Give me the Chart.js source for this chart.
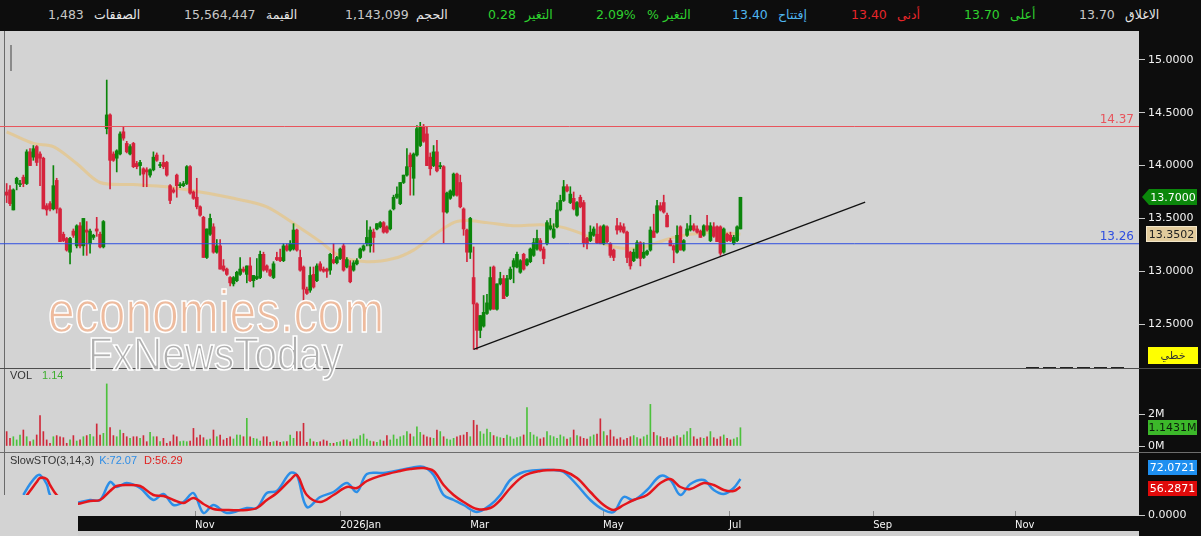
<!DOCTYPE html>
<html lang="en">
<head>
<meta charset="utf-8">
<script src="https://cdn.jsdelivr.net/npm/chart.js@4.4.1/dist/chart.umd.min.js"></script>
<style>
html,body{margin:0;padding:0;}
body{width:1201px;height:536px;background:#0d0d0d;position:relative;overflow:hidden;font-family:'DejaVu Sans',sans-serif;}
#topBar{position:absolute;left:0;top:0;width:1201px;height:31px;background:#0d0d0d;}
#topBar span{position:absolute;top:7px;font-size:12.5px;line-height:16px;white-space:nowrap;}
canvas{position:absolute;left:0;}
.lg{position:absolute;font-family:'Liberation Sans',sans-serif;font-size:11px;line-height:13px;white-space:nowrap;z-index:3;}
.wm{position:absolute;font-family:'Liberation Sans',sans-serif;white-space:nowrap;-webkit-text-stroke:1.6px #ffffff;transform-origin:0 0;z-index:5;}
</style>
</head>
<body>
<div id="topBar"></div>
<canvas id="cPrice" width="1201" height="338" style="top:31px"></canvas>
<canvas id="cVol" width="1201" height="84" style="top:369px"></canvas>
<canvas id="cSto" width="1201" height="83" style="top:453px"></canvas>
<div class="lg" id="lgVol" style="left:10px;top:369px"></div>
<div class="lg" id="lgSto" style="left:10px;top:454px"></div>
<div class="wm" style="left:48px;top:282px;font-size:60px;line-height:60px;color:#eebb9e;transform:scaleX(0.8);">economies.com</div>
<div class="wm" style="left:88px;top:331px;font-size:46px;line-height:46px;color:#b0b0b0;transform:scaleX(0.88);">FxNewsToday</div>
<script>
// ---------------- DATA ----------------
const topBarItems = [
  [48,'#c8c8c8','1,483'],[94,'#e6e6e6','الصفقات'],[184,'#c8c8c8','15,564,447'],[266,'#e6e6e6','القيمة'],
  [345,'#c8c8c8','1,143,099'],[416,'#e6e6e6','الحجم'],[488,'#2fd12f','0.28'],[525,'#2fd12f','التغير'],
  [596,'#2fd12f','2.09%'],[647,'#2fd12f','%'],[663,'#2fd12f','التغير'],[732,'#4fb6f0','13.40'],[778,'#4fb6f0','إفتتاح'],
  [851,'#e8262a','13.40'],[897,'#e8262a','أدنى'],[964,'#2fd12f','13.70'],[1010,'#2fd12f','أعلى'],
  [1079,'#c8c8c8','13.70'],[1125,'#e6e6e6','الاغلاق']
];

const candleOpen = [
13.75,13.77,13.58,13.83,13.82,13.89,13.83,14.13,14.08,14.18,14.11,14.07,13.62,13.64,13.59,13.86,13.59,13.35,13.31,13.18,
13.38,13.24,13.43,13.24,13.39,13.26,13.32,13.40,13.35,13.23,14.35,14.48,14.11,14.07,14.11,14.32,14.21,14.11,14.21,14.02,
14.00,13.97,13.96,13.91,13.96,14.10,14.00,14.03,14.03,13.81,13.77,13.91,13.81,13.81,13.83,13.99,13.75,
13.70,13.61,13.51,13.13,13.35,13.42,13.18,13.24,13.05,13.02,12.94,12.88,12.91,12.97,13.02,12.97,13.05,12.91,12.93,12.94,
13.16,13.05,13.01,12.94,13.13,13.13,13.10,13.24,13.20,13.21,13.39,13.13,13.04,12.83,12.82,12.97,12.91,13.07,13.02,13.02,
13.01,13.11,13.08,13.12,13.24,13.04,13.05,13.01,13.07,13.13,13.20,13.26,13.24,13.37,
13.40,13.42,13.46,13.42,13.40,13.59,13.70,13.64,13.84,13.91,14.10,13.88,14.10,14.19,14.37,14.30,14.08,14.00,14.13,13.99,
13.99,13.56,13.69,13.72,13.92,13.84,13.59,13.39,13.18,12.94,12.69,12.44,12.48,12.60,12.64,13.04,12.64,12.88,12.93,12.77,
12.93,13.04,13.04,12.99,13.16,13.06,13.09,13.15,13.21,13.29,13.21,13.26,13.40,13.32,13.42,
13.58,13.67,13.80,13.65,13.69,13.53,13.70,13.65,13.31,13.29,13.34,13.35,13.42,13.26,13.42,13.26,13.20,13.43,13.43,13.42,
13.37,13.18,13.10,13.13,13.27,13.13,13.16,13.20,13.38,13.37,13.62,13.65,13.53,13.29,13.24,13.18,13.42,13.20,13.34,13.39,
13.43,13.40,13.38,13.34,13.43,13.29,13.42,13.42,13.42,13.18,13.35,13.34,13.26,13.29,13.40];

const candleHigh = [
13.83,13.81,13.78,13.89,13.86,13.91,14.15,14.16,14.19,14.19,14.13,14.08,13.64,13.66,14.00,13.88,13.60,13.37,13.32,13.32,
13.40,13.44,13.46,13.50,13.47,13.40,13.35,13.51,13.37,13.48,14.81,14.49,14.13,14.15,14.32,14.37,14.23,14.20,14.22,14.04,
14.05,13.98,13.98,13.97,14.13,14.12,14.03,14.10,14.04,13.82,13.79,13.92,13.84,13.85,14.00,14.00,13.76,
13.88,13.62,13.52,13.40,13.54,13.45,13.30,13.30,13.11,13.03,12.95,12.95,13.00,13.13,13.04,13.05,13.13,12.96,13.12,13.19,
13.18,13.06,13.02,13.09,13.18,13.21,13.26,13.26,13.29,13.45,13.40,13.20,13.05,12.85,13.04,13.04,13.07,13.09,13.04,13.03,
13.17,13.26,13.14,13.22,13.26,13.13,13.10,13.10,13.12,13.22,13.25,13.48,13.42,13.40,
13.45,13.47,13.47,13.43,13.58,13.72,13.80,13.84,13.91,14.16,14.12,14.12,14.38,14.41,14.39,14.37,14.12,14.19,14.24,14.03,
14.00,13.75,13.77,13.93,13.93,13.91,13.60,13.40,13.51,13.23,12.70,12.58,12.77,12.78,13.04,13.05,12.88,12.99,12.96,12.96,
13.04,13.12,13.18,13.11,13.17,13.12,13.22,13.31,13.39,13.31,13.23,13.48,13.50,13.45,13.65,
13.72,13.86,13.82,13.80,13.75,13.66,13.72,13.67,13.32,13.43,13.42,13.45,13.43,13.44,13.43,13.27,13.21,13.50,13.46,13.45,
13.38,13.19,13.21,13.29,13.28,13.27,13.20,13.42,13.54,13.67,13.65,13.72,13.55,13.31,13.25,13.43,13.43,13.30,13.45,13.53,
13.45,13.43,13.39,13.44,13.53,13.46,13.46,13.43,13.43,13.41,13.36,13.37,13.34,13.43,13.70];

const candleLow = [
13.65,13.62,13.58,13.77,13.80,13.80,13.82,14.00,14.05,14.00,13.81,13.59,13.53,13.57,13.58,13.55,13.28,13.28,13.19,13.07,
13.32,13.22,13.22,13.15,13.15,13.17,13.30,13.33,13.22,13.22,14.30,13.78,14.04,13.94,14.10,14.24,14.12,14.10,13.98,13.97,
13.91,13.80,13.80,13.89,13.95,14.04,13.98,13.97,13.90,13.64,13.74,13.70,13.79,13.80,13.82,13.73,13.68,
13.59,13.52,13.13,13.12,13.34,13.17,13.17,13.02,13.00,12.96,12.86,12.86,12.90,12.96,12.99,12.89,12.90,12.85,12.92,12.93,
13.00,12.99,12.95,12.93,13.10,13.09,13.09,13.19,13.19,13.20,13.19,13.00,12.72,12.78,12.80,12.84,12.90,13.00,12.99,12.94,
12.97,13.07,13.07,13.11,13.00,13.03,12.89,13.00,13.06,13.12,13.19,13.24,13.18,13.18,
13.39,13.41,13.36,13.36,13.39,13.58,13.69,13.63,13.83,13.90,13.72,13.72,14.09,14.18,14.22,14.00,13.91,13.99,13.94,13.97,
13.27,13.55,13.68,13.71,13.71,13.60,13.34,13.09,13.12,12.26,12.26,12.37,12.47,12.59,12.63,12.64,12.63,12.87,12.74,12.76,
12.92,12.89,13.03,12.98,13.01,13.05,13.08,13.14,13.20,13.19,13.07,13.25,13.39,13.31,13.41,
13.57,13.66,13.75,13.64,13.58,13.52,13.60,13.23,13.21,13.28,13.33,13.26,13.26,13.25,13.27,13.13,13.10,13.35,13.37,13.36,
13.08,13.02,13.09,13.12,13.05,13.12,13.15,13.19,13.32,13.36,13.57,13.55,13.42,13.24,13.08,13.17,13.20,13.19,13.33,13.38,
13.38,13.36,13.32,13.33,13.38,13.28,13.32,13.28,13.15,13.17,13.28,13.28,13.25,13.28,13.40];

const candleClose = [
13.72,13.64,13.77,13.88,13.83,13.83,14.13,14.00,14.16,14.03,14.07,13.59,13.58,13.59,13.81,13.59,13.28,13.29,13.20,13.31,
13.34,13.43,13.24,13.50,13.37,13.38,13.34,13.38,13.23,13.47,14.48,14.05,14.05,14.14,14.30,14.26,14.13,14.18,13.99,13.99,
14.03,13.92,13.94,13.96,14.08,14.05,14.01,13.99,13.91,13.67,13.75,13.81,13.82,13.83,13.99,13.74,13.69,
13.61,13.53,13.13,13.40,13.50,13.18,13.24,13.02,13.01,12.97,12.89,12.94,12.99,13.02,13.00,13.05,12.91,12.96,12.95,13.16,
13.01,13.01,12.96,13.07,13.11,13.10,13.24,13.20,13.26,13.39,13.20,13.01,12.83,12.79,12.96,12.85,13.05,13.01,13.00,13.00,
13.16,13.08,13.13,13.21,13.01,13.11,12.90,13.08,13.10,13.21,13.24,13.32,13.39,13.32,
13.45,13.46,13.37,13.37,13.57,13.70,13.73,13.84,13.91,13.99,13.99,14.11,14.35,14.37,14.23,14.00,13.97,14.13,13.95,14.00,
13.56,13.74,13.76,13.92,13.72,13.61,13.40,13.18,13.50,12.69,12.44,12.58,12.61,12.70,12.94,12.64,12.88,12.93,12.74,12.93,
13.02,13.10,13.16,13.10,13.02,13.11,13.21,13.27,13.31,13.20,13.12,13.46,13.43,13.40,13.58,
13.67,13.80,13.76,13.73,13.59,13.65,13.61,13.27,13.26,13.37,13.40,13.27,13.26,13.43,13.28,13.15,13.13,13.39,13.39,13.37,
13.13,13.05,13.18,13.27,13.12,13.18,13.19,13.39,13.32,13.62,13.58,13.56,13.42,13.24,13.20,13.34,13.20,13.29,13.40,13.43,
13.39,13.37,13.32,13.43,13.39,13.43,13.33,13.28,13.17,13.40,13.29,13.29,13.32,13.42,13.70];

// volume in millions
const volume = [
.90,.48,.58,.38,.69,1.00,.58,.27,.38,.69,1.90,.90,.38,.17,.58,.65,.58,.52,.17,.38,
.65,.31,.38,.58,.65,.73,.58,1.38,.69,.79,3.88,1.15,.65,.58,1.00,.79,.58,.48,.58,.58,
.48,.65,.27,.85,.58,.58,.27,.48,.17,.27,.69,.58,.27,.31,.27,.31,1.10,.52,.69,.52,
.38,.44,1.00,.58,.69,.38,.48,.58,.44,.69,.69,.58,1.73,.58,.48,.44,.31,.58,.58,.23,
.27,.31,.23,.27,.27,.69,.48,.90,.90,1.42,.23,.44,.27,.23,.27,.38,.31,.17,.17,.23,
.27,.38,.38,.27,.44,.44,.65,.75,.44,.31,.27,.23,.38,.31,.65,.38,.69,
.44,.58,.65,.90,.75,.58,1.20,.85,.69,.58,.52,.48,1.00,.90,.58,.44,.38,.48,.58,.65,
.69,.85,.58,1.60,1.30,.90,.75,1.05,.85,.65,.58,.52,.48,.69,.58,.44,.52,.58,.69,2.40,
.85,.69,.58,.44,.52,.90,.65,.58,.48,.69,.58,.44,.52,1.00,.65,.58,.48,.44,.58,.69,
.75,1.70,.90,.65,1.00,.58,.44,.52,.38,.48,.58,.65,.52,.44,.58,.69,2.60,.85,.65,.58,
.48,.52,.44,.58,.65,.52,.69,.90,1.10,.58,.44,.52,.48,.58,.90,.52,.44,.58,.69,.48,
.38,.44,.52,1.143099];

// 50-day moving average read at selected bars
const maIdx = [0,8,14,21,28,38,48,58,68,78,88,94,100,108,116,122,128,134,138,144,152,160,166,172,178,184,190,195,200,205,212,220];
const maVal = [14.32,14.21,14.18,14.02,13.84,13.82,13.80,13.75,13.69,13.61,13.41,13.28,13.14,13.09,13.12,13.20,13.34,13.46,13.48,13.46,13.43,13.44,13.42,13.36,13.27,13.22,13.22,13.27,13.32,13.35,13.37,13.35];
const maLast = 13.3502;

// horizontal levels and trend line
const hLines = [14.37, 13.26];
const hLineColors = ['#e8545c', '#2f4fe0'];
const trendX = [140, 257.4];
const trendY = [12.26, 13.655];

// Slow stochastic (3,14,3) read at selected bars
const stoIdx = [5,7,9,10,12,13,15,18,21,25,28,31,33,36,40,44,47,50,53,56,59,62,66,72,75,78,81,85,87,90,94,98,102,105,108,113,118,121,125,128,131,134,137,141,145,148,151,155,160,164,167,171,175,179,182,185,188,192,196,199,202,205,209,212,215,218,220];
const stoK = [40,62,78,80,62,40,25,20,24,30,30,66,56,64,54,30,42,20,26,44,4,20,4,14,14,44,48,84,80,16,36,46,64,46,82,84,90,94,96,80,40,30,20,6,20,40,70,86,90,90,86,60,30,10,6,36,30,50,78,70,40,62,70,50,42,54,72.0721];
const stoD = [30,48,66,74,72,60,40,25,22,28,30,48,58,60,58,40,38,30,24,34,22,12,10,10,14,30,44,70,80,40,26,40,56,54,68,80,88,92,94,88,60,40,26,12,14,30,54,78,88,90,88,74,46,20,10,20,30,40,64,72,56,52,64,60,50,48,56.2871];

// axis ticks
const priceTicks = [12.5, 13, 13.5, 14, 14.5, 15];
const volTicks = [0, 2];
const stoTicks = [0];
const monthLabels = ['Nov','2026Jan','Mar','May','Jul','Sep','Nov'];
const monthPos = [56.5, 100, 139, 178.8, 216.6, 259.8, 302.3];

// ---------------- TOP BAR / LEGENDS ----------------
const topBarEl = document.getElementById('topBar');
topBarItems.forEach(([x,c,t])=>{ const s=document.createElement('span'); s.style.left=x+'px'; s.style.color=c; s.textContent=t; topBarEl.appendChild(s); });
const volLast = volume[volume.length-1];
document.getElementById('lgVol').innerHTML = '<span style="color:#333">VOL</span><span style="color:#3fae2f;margin-left:10px">'+volLast.toFixed(2)+'</span>';
document.getElementById('lgSto').innerHTML = '<span style="color:#333">SlowSTO(3,14,3)</span><span style="color:#2e8de6;margin-left:5px">K:'+stoK[stoK.length-1].toFixed(2)+'</span><span style="color:#e0201e;margin-left:7px">D:'+stoD[stoD.length-1].toFixed(2)+'</span>';

// ---------------- CHARTS ----------------
Chart.defaults.font.family = "'DejaVu Sans', sans-serif";
const X_MIN = -2, X_MAX = 339.5;
const PANEL = '#d3d3d3', GREEN = '#0b850b', RED = '#d5233c';
const idx = candleOpen.map((_,i)=>i);
const isUp = idx.map(i=>candleClose[i] >= candleOpen[i]);
const candleColors = isUp.map(u=>u?GREEN:RED);
const volColors = isUp.map(u=>u?'#4cc13c':'#cf2a3a');

const panelBg = {id:'panelBg', beforeDraw(c){
  const {ctx, chartArea:a} = c;
  ctx.save();
  ctx.fillStyle = PANEL; ctx.fillRect(a.left, a.top, a.right-a.left, a.bottom-a.top);
  ctx.fillStyle = '#6a6a6a'; ctx.fillRect(4, a.top, 1, a.bottom-a.top);
  ctx.restore();
}};

function hiddenX(){ return {type:'linear', min:X_MIN, max:X_MAX, display:false, offset:false}; }
function yAxis(min, max, ticks, fmt){
  return {position:'right', min, max,
    afterFit(s){ s.width = 62; s.paddingTop = 0; s.paddingBottom = 0; },
    afterBuildTicks(s){ s.ticks = ticks.map(v=>({value:v})); },
    ticks:{callback:fmt, color:'#f2f2f2', font:{size:11}, padding:3, autoSkip:false},
    grid:{drawOnChartArea:false, drawTicks:true, tickLength:6, color:'#c8c8c8'},
    border:{display:false}};
}
function baseOpts(x, y){
  return {responsive:false, animation:false, events:[], layout:{padding:0},
    plugins:{legend:{display:false}, tooltip:{enabled:false}}, scales:{x, y}};
}
function box(ctx, x, y, w, h, fill, txt, tc){
  ctx.fillStyle = fill; ctx.fillRect(x, y, w, h);
  ctx.fillStyle = tc; ctx.textAlign='center'; ctx.textBaseline='middle';
  ctx.font = "11px 'DejaVu Sans'"; ctx.fillText(txt, x + w/2, y + h/2 + 1);
}

// Price chart
const priceDeco = {id:'priceDeco', afterDraw(c){
  const {ctx, scales:{y}} = c;
  ctx.save();
  ctx.font = "12px 'DejaVu Sans'"; ctx.textAlign='right'; ctx.textBaseline='alphabetic';
  hLines.forEach((v,k)=>{ ctx.fillStyle = hLineColors[k]; ctx.fillText(v.toFixed(2), 1134, y.getPixelForValue(v)-4); });
  const lc = candleClose[candleClose.length-1];
  let py = Math.round(y.getPixelForValue(lc));
  ctx.fillStyle = '#0b870b'; ctx.beginPath();
  ctx.moveTo(1142,py); ctx.lineTo(1149,py-8); ctx.lineTo(1197,py-8); ctx.lineTo(1197,py+8); ctx.lineTo(1149,py+8); ctx.closePath(); ctx.fill();
  ctx.fillStyle = '#ffffff'; ctx.textAlign='center'; ctx.textBaseline='middle'; ctx.font="11px 'DejaVu Sans'";
  ctx.fillText(lc.toFixed(4), 1173, py+1);
  py = Math.round(y.getPixelForValue(maLast));
  box(ctx, 1146, py-8, 51, 16, '#e2cb9c', maLast.toFixed(4), '#222');
  ctx.strokeStyle = '#f3e6c8'; ctx.lineWidth = 1; ctx.strokeRect(1146.5, py-7.5, 50, 15);
  box(ctx, 1148, 316, 50, 17, '#ffff00', 'خطي', '#333');
  ctx.fillStyle = '#4d4d4d'; ctx.fillRect(0, 337, 1201, 1);
  ctx.strokeStyle = '#222'; ctx.setLineDash([13,4]); ctx.beginPath(); ctx.moveTo(1026,336.5); ctx.lineTo(1126,336.5); ctx.stroke(); ctx.setLineDash([]);
  ctx.fillStyle = '#8a8a8a'; ctx.fillRect(10, 14, 2, 26);
  ctx.restore();
}};

new Chart(document.getElementById('cPrice'), {
  type:'bar',
  data:{datasets:[
    {type:'line', data:maIdx.map((x,k)=>({x, y:maVal[k]})), borderColor:'rgba(226,200,150,0.92)', borderWidth:3, pointRadius:0, tension:0.3, order:4},
    {type:'bar', data:idx.map(i=>({x:i, y:[candleLow[i], candleHigh[i]]})), backgroundColor:candleColors, barThickness:1, grouped:false, order:3},
    {type:'bar', data:idx.map(i=>({x:i, y:[candleOpen[i], candleClose[i]]})), backgroundColor:candleColors, barThickness:3, minBarLength:1, grouped:false, order:2},
    ...hLines.map((v,k)=>({type:'line', data:[{x:X_MIN, y:v},{x:X_MAX, y:v}], borderColor:hLineColors[k], borderWidth:1, pointRadius:0, order:1})),
    {type:'line', data:trendX.map((x,k)=>({x, y:trendY[k]})), borderColor:'#111', borderWidth:1.3, pointRadius:0, order:0}
  ]},
  options: baseOpts(hiddenX(), yAxis(12.0739, 15.2746, priceTicks, v=>Number(v).toFixed(4))),
  plugins:[panelBg, priceDeco]
});

// Volume chart
const volDeco = {id:'volDeco', afterDraw(c){
  const {ctx, scales:{y}} = c;
  ctx.save();
  const py = Math.round(y.getPixelForValue(volLast));
  box(ctx, 1148, py-8, 49, 15, '#3cb82a', volLast.toFixed(4)+'M', '#0c1f0c');
  ctx.fillStyle = '#6d6d6d'; ctx.fillRect(0, 83, 1201, 1);
  ctx.restore();
}};
new Chart(document.getElementById('cVol'), {
  type:'bar',
  data:{datasets:[{data:idx.map(i=>({x:i, y:volume[i]})), backgroundColor:volColors, barThickness:1, grouped:false}]},
  options: baseOpts(hiddenX(), yAxis(-0.4375, 4.8125, volTicks, v=>v+'M')),
  plugins:[panelBg, volDeco]
});

// Stochastic chart
const stoDeco = {id:'stoDeco',
  beforeDraw(c){
    const {ctx} = c; ctx.save();
    ctx.fillStyle = '#cfcfcf'; ctx.fillRect(78, 78, 1061, 5);
    ctx.restore();
  },
  afterDraw(c){
    const {ctx, scales:{x}} = c; ctx.save();
    ctx.fillStyle = PANEL; ctx.fillRect(0, 42, 78, 41);
    ctx.fillStyle = '#8c8c8c';
    monthPos.forEach(v=>{ ctx.fillRect(Math.round(x.getPixelForValue(v)), 58, 1, 5); });
    box(ctx, 1148, 7, 49, 15, '#1e8ff0', stoK[stoK.length-1].toFixed(4), '#ffffff');
    box(ctx, 1148, 28, 49, 15, '#e00a0a', stoD[stoD.length-1].toFixed(4), '#ffffff');
    ctx.restore();
  }};
new Chart(document.getElementById('cSto'), {
  type:'line',
  data:{datasets:[
    {data:stoIdx.map((x,k)=>({x, y:stoD[k]})), borderColor:'#e4161c', borderWidth:2.5, pointRadius:0, tension:0.35},
    {data:stoIdx.map((x,k)=>({x, y:stoK[k]})), borderColor:'#2b8ee8', borderWidth:2.5, pointRadius:0, tension:0.35}
  ]},
  options: baseOpts({type:'linear', min:X_MIN, max:X_MAX, offset:false,
      afterFit(s){ s.height = 20; s.paddingLeft = 0; s.paddingRight = 0; },
      afterBuildTicks(s){ s.ticks = monthPos.map(v=>({value:v})); },
      ticks:{callback:(v,i)=>monthLabels[i], color:'#f4f4f4', font:{size:10}, align:'start', padding:3, maxRotation:0, autoSkip:false},
      grid:{display:false, drawTicks:false}, border:{display:false}},
    yAxis(-2, 124, stoTicks, v=>Number(v).toFixed(4))),
  plugins:[panelBg, stoDeco]
});
</script>
</body>
</html>
